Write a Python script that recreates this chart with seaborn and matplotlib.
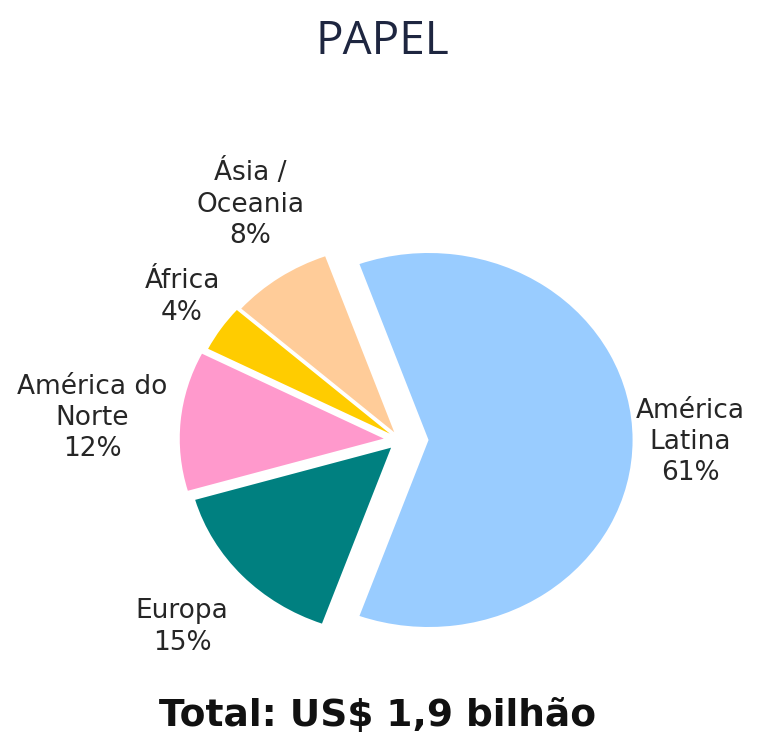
import matplotlib
matplotlib.use("Agg")
import matplotlib.pyplot as plt
import seaborn as sns

# Paper exports by destination region (share of total, %)
regions = ["América\nLatina", "Ásia /\nOceania", "África", "América do\nNorte", "Europa"]
shares = [61, 8, 4, 12, 15]
colors = ["#99CCFF", "#FFCC99", "#FFCC00", "#FF99CC", "#008080"]
explode = [0.14, 0.05, 0.06, 0.08, 0.06]

title = "PAPEL"
total_text = "Total: US$ 1,9 bilhão"

# label anchor points in pixels (x, y from top-left)
label_px = [(690, 442), (250, 204), (182, 297), (92, 418), (182, 627)]

sns.set_theme(style="white")
plt.rcParams["font.family"] = ["DejaVu Sans"]

W, H = 763, 747
fig = plt.figure(figsize=(W / 100, H / 100), dpi=100)
fig.patch.set_facecolor("white")
ax = fig.add_axes([0, 0, 1, 1])

# the biggest slice is centred on the right-hand side
start = -shares[0] / sum(shares) * 180
ax.pie(shares, colors=colors, explode=explode, startangle=start,
       counterclock=True, radius=1.0, center=(0, 0),
       wedgeprops=dict(linewidth=0))

# pixel scale of the unit radius (horizontal, vertical) and pie centre
rx, ry = 204, 187
cx, cy = 400, 440
ax.set_aspect("auto")
ax.set_xlim(-cx / rx, (W - cx) / rx)
ax.set_ylim(-(H - cy) / ry, cy / ry)
ax.axis("off")

for (px, py), name, val in zip(label_px, regions, shares):
    fig.text(px / W, 1 - py / H, f"{name}\n{val}%", ha="center", va="center",
             fontsize=19, color="#262626", linespacing=1.27)

fig.text(382 / W, 1 - 42 / H, title, ha="center", va="center",
         fontsize=33, color="#1E2640", family=["Open Sans", "DejaVu Sans"])
fig.text(378 / W, 1 - 716 / H, total_text, ha="center", va="center",
         fontsize=27, fontweight="bold", color="#111111")

fig.savefig("out.png", dpi=100, facecolor="white")
